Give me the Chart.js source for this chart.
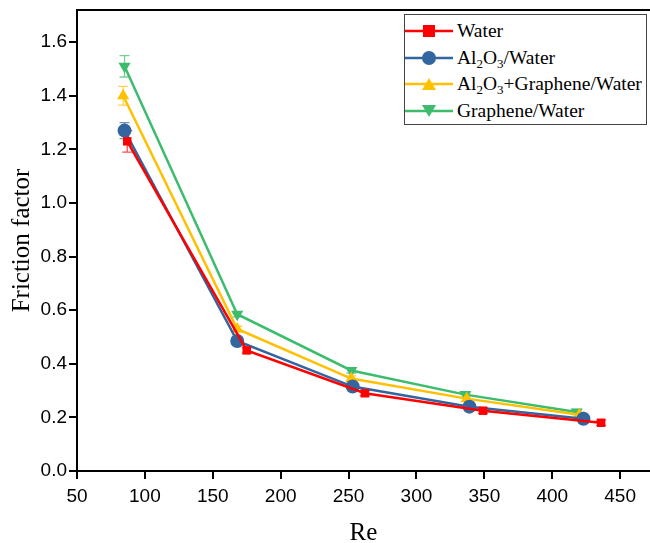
<!DOCTYPE html>
<html>
<head>
<meta charset="utf-8">
<script src="https://cdn.jsdelivr.net/npm/chart.js@4.4.1/dist/chart.umd.min.js"></script>
<style>
  html, body { margin: 0; padding: 0; background: #fff; }
  #wrap { position: relative; width: 650px; height: 543px; }
  #legend {
    position: absolute; left: 404px; top: 14px; width: 241px; height: 109px;
    border: 1px solid #444; background: #fff;
    font-family: "Liberation Serif", "Times New Roman", serif; font-size: 19.5px; color: #000;
  }
  .row { position: absolute; left: 0; height: 26px; display: flex; align-items: center; white-space: nowrap; }
  .row svg { margin-right: 4px; }
  sub { font-size: 13px; vertical-align: -4px; line-height: 0; }
</style>
</head>
<body>
<div id="wrap">
  <canvas id="chart" width="650" height="543"></canvas>
  <div id="legend"></div>
</div>
<script>
const seriesNames = ["Water", "Al2O3/Water", "Al2O3+Graphene/Water", "Graphene/Water"];
const seriesLabelsHtml = ["Water", "Al<sub>2</sub>O<sub>3</sub>/Water", "Al<sub>2</sub>O<sub>3</sub>+Graphene/Water", "Graphene/Water"];

const waterRe = [87, 175, 262, 349, 436];
const waterF = [1.23, 0.45, 0.29, 0.225, 0.18];
const waterErr = [0.04, 0.01, 0.01, 0.01, 0.01];

const aluminaRe = [85, 168, 253, 339, 423];
const aluminaF = [1.27, 0.485, 0.315, 0.24, 0.195];
const aluminaErr = [0.03, 0.01, 0.01, 0.01, 0.01];

const hybridRe = [84, 168, 252, 337, 420];
const hybridF = [1.40, 0.53, 0.345, 0.27, 0.21];
const hybridErr = [0.035, 0.01, 0.01, 0.01, 0.01];

const grapheneRe = [85, 168, 252, 336, 418];
const grapheneF = [1.51, 0.585, 0.375, 0.285, 0.22];
const grapheneErr = [0.04, 0.01, 0.01, 0.01, 0.01];

const xTicks = [50, 100, 150, 200, 250, 300, 350, 400, 450];
const yTicks = [0, 0.2, 0.4, 0.6, 0.8, 1.0, 1.2, 1.4, 1.6];

const colors = ["#ff0000", "#33659f", "#ffc000", "#3cbc6c"];
const markers = ["rect", "circle", "triangle", "triangle"];
const rotations = [0, 0, 0, 180];
const errs = [waterErr, aluminaErr, hybridErr, grapheneErr];

function pts(xs, ys) {
  return xs.map((x, i) => ({ x: x, y: ys[i] }));
}

const allData = [
  pts(waterRe, waterF),
  pts(aluminaRe, aluminaF),
  pts(hybridRe, hybridF),
  pts(grapheneRe, grapheneF),
];

const errorBars = {
  id: "errorBars",
  beforeDatasetsDraw(chart) {
    const { ctx, scales: { x, y } } = chart;
    chart.data.datasets.forEach((ds, i) => {
      ctx.save();
      ctx.strokeStyle = ds.borderColor;
      ctx.globalAlpha = 0.7;
      ctx.lineWidth = 1.3;
      ds.data.forEach((p, j) => {
        const e = errs[i][j];
        const px = x.getPixelForValue(p.x);
        const top = y.getPixelForValue(p.y + e);
        const bot = y.getPixelForValue(p.y - e);
        ctx.beginPath();
        ctx.moveTo(px, top); ctx.lineTo(px, bot);
        ctx.moveTo(px - 5, top); ctx.lineTo(px + 5, top);
        ctx.moveTo(px - 5, bot); ctx.lineTo(px + 5, bot);
        ctx.stroke();
      });
      ctx.restore();
    });
  },
};

const topBorder = {
  id: "topBorder",
  afterDraw(chart) {
    const { ctx, chartArea } = chart;
    ctx.save();
    ctx.strokeStyle = "#000";
    ctx.lineWidth = 2;
    ctx.beginPath();
    ctx.moveTo(chartArea.left, chartArea.top);
    ctx.lineTo(chartArea.right, chartArea.top);
    ctx.stroke();
    ctx.restore();
  },
};

const chart = new Chart(document.getElementById("chart"), {
  type: "line",
  data: {
    datasets: seriesNames.map((name, i) => ({
      label: name,
      data: allData[i],
      borderColor: colors[i],
      backgroundColor: colors[i],
      borderWidth: 2.5,
      pointStyle: markers[i],
      rotation: rotations[i],
      pointRadius: i === 0 ? 6 : 7,
      pointBorderWidth: 0,
      tension: 0,
    })),
  },
  options: {
    responsive: false,
    animation: false,
    devicePixelRatio: 1,
    layout: { autoPadding: false, padding: { top: 10, right: 0, left: 0, bottom: 0 } },
    plugins: {
      legend: { display: false },
      tooltip: { enabled: false },
    },
    scales: {
      x: {
        type: "linear",
        min: 50,
        max: 472,
        afterBuildTicks: (s) => { s.ticks = xTicks.map((v) => ({ value: v })); },
        afterFit: (s) => { s.height = 72; s.paddingLeft = 0; s.paddingRight = 0; },
        ticks: {
          color: "#000",
          font: { family: "Liberation Sans, Arial", size: 19 },
          maxRotation: 0,
          autoSkip: false,
          padding: 6,
        },
        grid: { drawOnChartArea: false, drawTicks: true, tickLength: 8, color: "#000", lineWidth: 2 },
        border: { color: "#000", width: 2 },
        title: {
          display: true,
          text: "Re",
          color: "#000",
          font: { family: "Liberation Serif, Times New Roman", size: 25, lineHeight: 0.8 },
          padding: { top: 0, bottom: 0 },
        },
      },
      y: {
        min: 0,
        max: 1.72,
        afterBuildTicks: (s) => { s.ticks = yTicks.map((v) => ({ value: v })); },
        afterFit: (s) => { s.width = 77; s.paddingTop = 0; s.paddingBottom = 0; },
        ticks: {
          color: "#000",
          font: { family: "Liberation Sans, Arial", size: 19 },
          callback: (v) => Number(v).toFixed(1),
          padding: 2,
        },
        grid: { drawOnChartArea: false, drawTicks: true, tickLength: 8, color: "#000", lineWidth: 2 },
        border: { color: "#000", width: 2 },
        title: {
          display: true,
          text: "Friction factor",
          color: "#000",
          font: { family: "Liberation Serif, Times New Roman", size: 25, lineHeight: 1.2 },
          padding: { top: 7, bottom: 0 },
        },
      },
    },
  },
  plugins: [errorBars, topBorder],
});

// legend with subscripts, built from the chart's datasets
const legendEl = document.getElementById("legend");
chart.data.datasets.forEach((ds, i) => {
  const row = document.createElement("div");
  row.className = "row";
  row.style.top = (3 + i * 26.7) + "px";
  let mark;
  if (markers[i] === "rect") {
    mark = '<rect x="18" y="7" width="12" height="12" fill="' + colors[i] + '"/>';
  } else if (markers[i] === "circle") {
    mark = '<circle cx="24" cy="13" r="7" fill="' + colors[i] + '"/>';
  } else if (rotations[i] === 180) {
    mark = '<polygon points="17,7 31,7 24,19" fill="' + colors[i] + '"/>';
  } else {
    mark = '<polygon points="17,19 31,19 24,7" fill="' + colors[i] + '"/>';
  }
  row.innerHTML =
    '<svg width="48" height="26"><line x1="0" y1="13" x2="48" y2="13" stroke="' + colors[i] +
    '" stroke-width="2.5"/>' + mark + "</svg><span>" + seriesLabelsHtml[i] + "</span>";
  legendEl.appendChild(row);
});
</script>
</body>
</html>
